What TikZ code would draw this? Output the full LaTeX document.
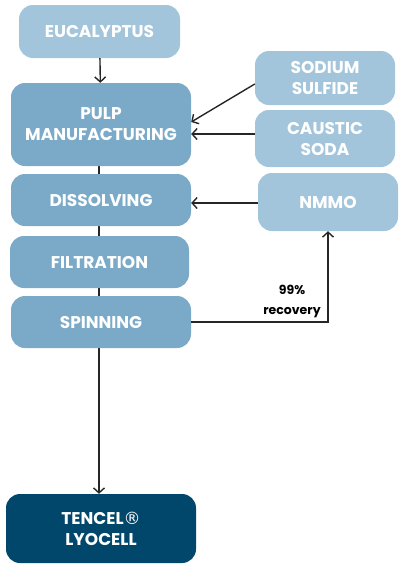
\documentclass[tikz,border=0pt]{standalone}
\usepackage{fontspec}
\setmainfont{Poppins}
\newfontfamily\symfont{DejaVu Sans}
\usetikzlibrary{arrows.meta,backgrounds}
\definecolor{lightbox}{HTML}{A3C5DB}
\definecolor{midbox}{HTML}{7AAAC8}
\definecolor{darkbox}{HTML}{00476B}
\begin{document}
\begin{tikzpicture}[x=1pt,y=-1pt,>={Straight Barb[length=5pt,width=11pt]},
			box/.style={rounded corners=14pt,text=white,font=\bfseries\fontsize{17}{21}\selectfont,align=center,inner sep=0pt,text depth=0pt},
			lbox/.style={box,fill=lightbox},
			mbox/.style={box,fill=midbox},
			line/.style={line width=1.4pt,draw=black!85},
			]
			\useasboundingbox (0,0) rectangle (408,571);
			
			% left column
			\node[lbox,minimum width=161pt,minimum height=53pt] (euc) at (99.5,31.5) {EUCALYPTUS};
			\node[mbox,minimum width=180pt,minimum height=83pt] (pulp) at (101,124.5) {PULP\\MANUFACTURING};
			\node[mbox,minimum width=180pt,minimum height=52pt] (diss) at (101,200) {DISSOLVING};
			\node[mbox,minimum width=179pt,minimum height=52pt] (filt) at (99.5,262) {FILTRATION};
			\node[mbox,minimum width=180pt,minimum height=52pt] (spin) at (101,322) {SPINNING};
			\node[box,fill=darkbox,minimum width=190pt,minimum height=69pt] (tencel) at (101,528.5) {TENCEL{\symfont\mdseries ®}\\LYOCELL};
			
			% right column
			\node[lbox,minimum width=140pt,minimum height=54pt] (sulf) at (325,78) {SODIUM\\SULFIDE};
			\node[lbox,minimum width=140pt,minimum height=57pt] (soda) at (325,138.5) {CAUSTIC\\SODA};
			\node[lbox,minimum width=140pt,minimum height=58pt] (nmmo) at (328,202) {NMMO};
			
			% main line behind the boxes
			\begin{pgfonlayer}{background}
				\draw[line,->] (pulp.south -| 99,0) -- (tencel.north -| 99,0);
			\end{pgfonlayer}
			\draw[line,->] (euc) -- (pulp);
			\draw[line,->] (sulf.west |- 0,84) -- (pulp.east |- 0,122);
			\draw[line,->] (soda.west |- 0,134) -- (pulp.east |- 0,134);
			\draw[line,->] (nmmo.west |- 0,203) -- (diss.east |- 0,203);
			
			% recovery loop
			\draw[line,->] (spin.east) -| (nmmo.south);
			\node[font=\bfseries\fontsize{12.5}{20}\selectfont,align=center] (rec) at (292,301) {99\%\\recovery};
		\end{tikzpicture}
\end{document}
